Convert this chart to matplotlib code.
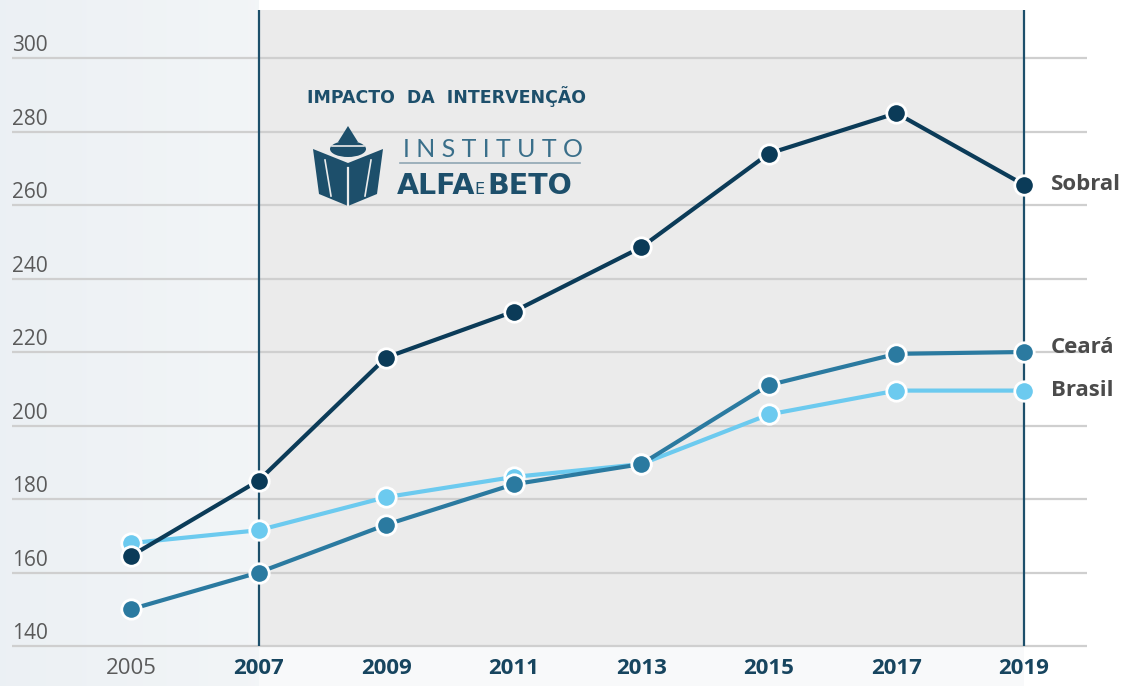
import numpy as np
from matplotlib import pyplot as plt
from matplotlib.patches import Polygon, Ellipse

# values
years = [2005, 2007, 2009, 2011, 2013, 2015, 2017, 2019]
sobral = [164.5, 185, 218.5, 231, 248.5, 274, 285, 265.5]
ceara = [150, 160, 173, 184, 189.5, 211, 219.5, 220]
brasil = [168, 171.5, 180.5, 186, 189.5, 203, 209.5, 209.5]
yticks = [140, 160, 180, 200, 220, 240, 260, 280, 300]
series_names = ['Sobral', 'Ceará', 'Brasil']

c_sobral = '#0b3b58'
c_ceara = '#2b7aa0'
c_brasil = '#6ccaef'
c_teal = '#17455f'
c_label = '#4b4b4b'

W, H = 1138, 686
fig = plt.figure(figsize=(W / 100, H / 100), dpi=100)
fig.patch.set_facecolor('white')

# main axes covers the whole figure, limits chosen so the layout matches
ax = fig.add_axes([0, 0, 1, 1])
ppy = (1024 - 131) / 14.0        # pixels per year
ppu = (646 - 58) / 160.0         # pixels per score unit
x0 = 2005 - 131 / ppy
x1 = 2005 + (W - 131) / ppy
y0 = 140 - (H - 646) / ppu
y1 = 300 + 58 / ppu
ax.set_xlim(x0, x1)
ax.set_ylim(y0, y1)
ax.axis('off')

# backgrounds
grad = np.linspace(0, 1, 256).reshape(1, -1)
left_c = np.array([0.925, 0.943, 0.957])
right_c = np.array([0.950, 0.961, 0.969])
img = left_c + grad[..., None] * (right_c - left_c)
ax.imshow(img, extent=(x0, 2007, y0, y1), aspect='auto', zorder=0)
y_top_shade = 300 + 48 / ppu
ax.fill_between([2007, 2019], 140, y_top_shade, color='#ebebeb', lw=0, zorder=0.5)
ax.fill_between([2007, 2019], y0, 140, color='#f8f9fa', lw=0, zorder=0.5)

# grid lines
gx0 = x0 + 12 / ppy
gx1 = x0 + 1087 / ppy
ax.hlines(yticks, gx0, gx1, color='#cfcfcf', lw=1.6, zorder=1)

# intervention period markers
ax.vlines([2007, 2019], 140, y_top_shade, color='#1d4f6b', lw=1.6, zorder=2)

# y labels sit above their grid lines
for v in yticks:
    ax.text(gx0, v + 1.9, str(v), ha='left', va='baseline', fontsize=15,
            family='Open Sans', color='#5a5a5a', zorder=3)

# x labels
for i, yr in enumerate(years):
    if i == 0:
        ax.text(yr, 134, str(yr), ha='center', va='center', fontsize=16,
                family='Open Sans', color='#5a5a5a')
    else:
        ax.text(yr, 134, str(yr), ha='center', va='center', fontsize=16,
                family='Open Sans', weight='bold', color=c_teal)

# lines
for vals, col in [(brasil, c_brasil), (ceara, c_ceara), (sobral, c_sobral)]:
    ax.plot(years, vals, color=col, lw=3, marker='o', markersize=14,
            markerfacecolor=col, markeredgecolor='white', markeredgewidth=2,
            zorder=4)

# end labels
ends = [sobral[-1], ceara[-1] + 1.2, brasil[-1]]
for name, v in zip(series_names, ends):
    ax.text(2019 + 27 / ppy, v, name, ha='left', va='center', fontsize=16,
            family='Open Sans', weight='bold', color=c_label)

# logo overlay in pixel coordinates
lg = fig.add_axes([0, 0, 1, 1], zorder=5)
lg.set_xlim(0, W)
lg.set_ylim(H, 0)
lg.axis('off')
lg.patch.set_alpha(0)

lg.text(307, 97, 'IMPACTO  DA  INTERVENÇÃO', ha='left', va='center',
        fontsize=12.5, family='DejaVu Sans', weight='bold', color='#1d4f6b')

book = Polygon([(313, 149), (348, 163), (383, 149), (377, 194), (348, 206), (319, 194)],
               closed=True, facecolor='#1d4f6b', edgecolor='none')
lg.add_patch(book)
lg.plot([348, 348], [168, 205], color='#ebebeb', lw=1.6)
lg.plot([325, 331], [160, 196], color='#ebebeb', lw=1.2)
lg.plot([371, 365], [160, 196], color='#ebebeb', lw=1.2)
lg.add_patch(Polygon([(338, 142), (348, 126), (358, 142)], closed=True,
                     facecolor='#1d4f6b', edgecolor='none'))
lg.add_patch(Ellipse((348, 149), 36, 16, facecolor='#1d4f6b', edgecolor='none'))
lg.plot([332, 364], [146, 146], color='#ebebeb', lw=1.2)

lg.text(403, 157, 'I N S T I T U T O', ha='left', va='baseline', fontsize=18,
        family='Lato', color='#3a6f8a')
lg.plot([400, 580], [163, 163], color='#8fa6b3', lw=1.2)
lg.text(397, 194, 'ALFA', ha='left', va='baseline', fontsize=20.5,
        family='DejaVu Sans', weight='bold', color='#1d4f6b')
lg.text(474, 194, 'E', ha='left', va='baseline', fontsize=11.5,
        family='DejaVu Sans', color='#1d4f6b')
lg.text(487, 194, 'BETO', ha='left', va='baseline', fontsize=20.5,
        family='DejaVu Sans', weight='bold', color='#1d4f6b')

fig.savefig('out.png', dpi=100)
